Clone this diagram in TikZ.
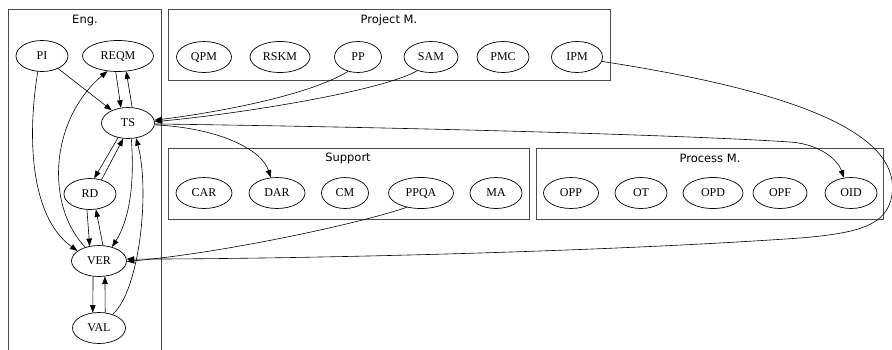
\documentclass[tikz,border=0pt]{standalone}
\usepackage{fontspec}
\setmainfont{Liberation Serif}
\newfontfamily\clusterfont{DejaVu Sans}
\usetikzlibrary{arrows.meta,shapes.geometric}

\begin{document}
\begin{tikzpicture}[x=1pt,y=-1pt]
		\tikzset{state/.style={ellipse,draw,line width=0.7pt,minimum height=31,inner sep=2pt,font=\rmfamily\fontsize{12}{14}\selectfont}}
		\tikzset{cluster/.style={draw=black!70,line width=0.8pt}}
		\tikzset{clabel/.style={font=\clusterfont\fontsize{11.5}{13}\selectfont}}
		\tikzset{edge/.style={draw,line width=0.6pt,-{Triangle[length=7.5pt,width=5.5pt]}}}
		\useasboundingbox (0,0) rectangle (892,349);
		% clusters
		\draw[cluster] (8,352) -- (8,9) -- (161,9) -- (161,352);
		\node[clabel] (engLabel) at (85,21) {Eng.};
		\draw[cluster] (168,9) rectangle (610,80);
		\node[clabel] (pmLabel) at (389,20) {Project M.};
		\draw[cluster] (168,148) rectangle (529,219);
		\node[clabel] (supLabel) at (348,158) {Support};
		\draw[cluster] (536,148) rectangle (883,219);
		\node[clabel] (procLabel) at (710,158) {Process M.};
		% Eng.
		\node[state,minimum width=52] (PI) at (42,56) {PI};
		\node[state,minimum width=71] (REQM) at (118,56) {REQM};
		\node[state,minimum width=53] (TS) at (128,123) {TS};
		\node[state,minimum width=52] (RD) at (90,194) {RD};
		\node[state,minimum width=55] (VER) at (99,261) {VER};
		\node[state,minimum width=53] (VAL) at (99,328) {VAL};
		% Project M.
		\node[state,minimum width=55] (QPM) at (204,57) {QPM};
		\node[state,minimum width=60] (RSKM) at (280,57) {RSKM};
		\node[state,minimum width=47] (PP) at (358,57) {PP};
		\node[state,minimum width=54] (SAM) at (431,57) {SAM};
		\node[state,minimum width=52] (PMC) at (503,57) {PMC};
		\node[state,minimum width=51] (IPM) at (577,57) {IPM};
		% Support
		\node[state,minimum width=56] (CAR) at (204,193) {CAR};
		\node[state,minimum width=56] (DAR) at (277,193) {DAR};
		\node[state,minimum width=47] (CM) at (345,193) {CM};
		\node[state,minimum width=65] (PPQA) at (421,193) {PPQA};
		\node[state,minimum width=52] (MA) at (496,193) {MA};
		% Process M.
		\node[state,minimum width=55] (OPP) at (571,193) {OPP};
		\node[state,minimum width=52] (OT) at (641,193) {OT};
		\node[state,minimum width=60] (OPD) at (713,193) {OPD};
		\node[state,minimum width=54] (OPF) at (780,193) {OPF};
		\node[state,minimum width=52] (OID) at (851,193) {OID};
		% edges inside Eng.
		\draw[edge] (PI) -- (TS);
		\draw[edge] (PI.255) .. controls (28,130) and (28,215) .. (VER.155);
		\draw[edge] (REQM.262) -- (TS.115);
		\draw[edge] (TS.75) -- (REQM.-62);
		\draw[edge] (VER.135) .. controls (45,205) and (50,120) .. (REQM.235);
		\draw[edge] (TS.236) -- (RD.75);
		\draw[edge] (RD.51) -- (TS.253);
		\draw[edge] (TS.282) .. controls (134,175) and (132,215) .. (VER.47);
		\draw[edge] (VAL.45) .. controls (140,290) and (150,190) .. (TS.298);
		\draw[edge] (RD.259) -- (VER.122);
		\draw[edge] (VER.76) -- (RD.291);
		\draw[edge] (VER.249) -- (VAL.112);
		\draw[edge] (VAL.68) -- (VER.291);
		% edges between clusters
		\draw[edge] (PP.235) .. controls (310,95) and (220,112) .. (TS.6);
		\draw[edge] (SAM.225) .. controls (380,92) and (230,115) .. (TS.3);
		\draw[edge] (TS.-4) .. controls (220,128) and (262,150) .. (DAR.112);
		\draw[edge] (TS.-2) .. controls (450,128) and (700,136) .. (790,142)
			.. controls (820,144) and (838,160) .. (OID.115);
		\draw[edge] (IPM.-10) .. controls (820,95) and (900,140) .. (892,195)
			.. controls (887,225) and (860,233) .. (800,238)
			.. controls (600,252) and (300,259) .. (VER.4);
		\draw[edge] (PPQA.225) .. controls (365,222) and (230,252) .. (VER.-1);
	\end{tikzpicture}
\end{document}
